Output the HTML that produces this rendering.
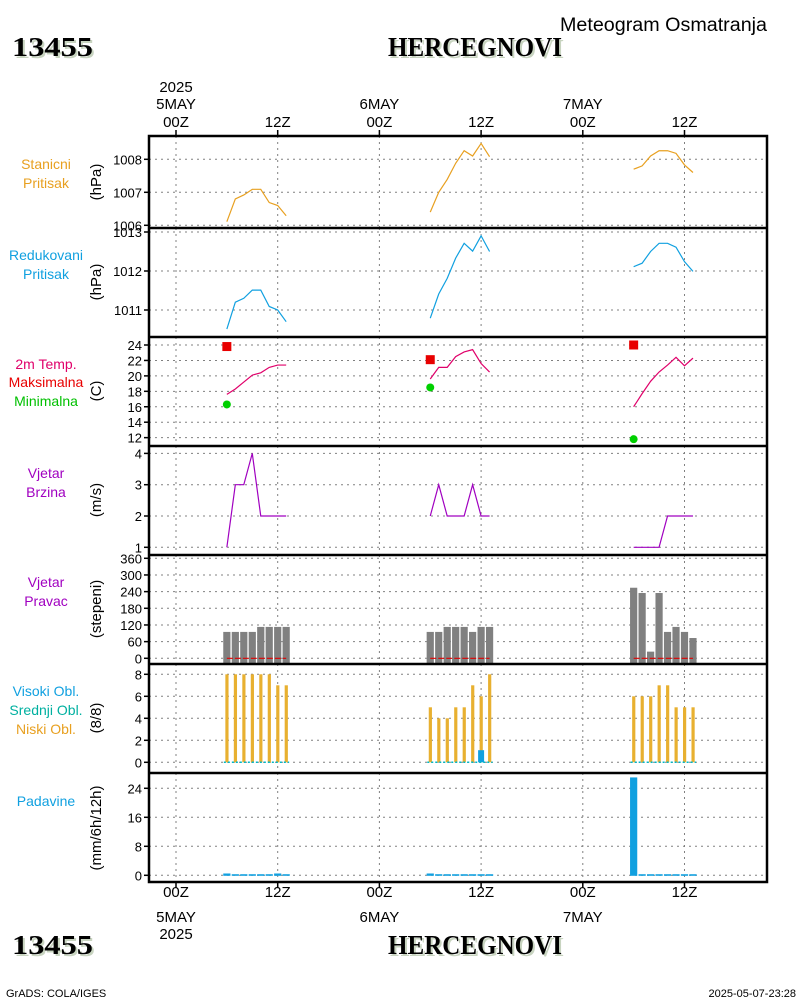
<!DOCTYPE html>
<html><head><meta charset="utf-8"><style>
html,body{margin:0;padding:0;background:#fff;}
svg{display:block;font-family:"Liberation Sans",sans-serif;}
</style></head><body>
<svg id="chart" width="800" height="1000" viewBox="0 0 800 1000" xmlns="http://www.w3.org/2000/svg">
<rect x="0" y="0" width="800" height="1000" fill="#fff"/>
<text x="560" y="31" font-size="19" textLength="207" lengthAdjust="spacingAndGlyphs">Meteogram Osmatranja</text>
<g font-family="Liberation Serif,serif" font-weight="bold" font-size="27">
<text x="14" y="58" fill="#c8d4c0" textLength="81" lengthAdjust="spacingAndGlyphs">13455</text><text x="12" y="56" fill="#000" textLength="81" lengthAdjust="spacingAndGlyphs">13455</text>
<text x="390" y="58" fill="#c8d4c0" textLength="174" lengthAdjust="spacingAndGlyphs">HERCEGNOVI</text><text x="388" y="56" fill="#000" textLength="174" lengthAdjust="spacingAndGlyphs">HERCEGNOVI</text>
</g>
<g font-family="Liberation Serif,serif" font-weight="bold" font-size="27">
<text x="14" y="956" fill="#c8d4c0" textLength="81" lengthAdjust="spacingAndGlyphs">13455</text><text x="12" y="954" fill="#000" textLength="81" lengthAdjust="spacingAndGlyphs">13455</text>
<text x="390" y="956" fill="#c8d4c0" textLength="174" lengthAdjust="spacingAndGlyphs">HERCEGNOVI</text><text x="388" y="954" fill="#000" textLength="174" lengthAdjust="spacingAndGlyphs">HERCEGNOVI</text>
</g>
<text x="6" y="997" font-size="11">GrADS: COLA/IGES</text>
<text x="796" y="997" font-size="11" text-anchor="end">2025-05-07-23:28</text>
<g id="g"></g>
</svg>
<script>
// ---- data (hours 06Z..13Z each day) ----
const dayStarts = [0, 24, 48];
const hoursOfDay = [6,7,8,9,10,11,12,13];
const stnPress = [[1006.11,1006.80,1006.92,1007.09,1007.09,1006.69,1006.60,1006.29],
                  [1006.40,1007.00,1007.39,1007.88,1008.26,1008.10,1008.48,1008.08],
                  [1007.70,1007.80,1008.10,1008.26,1008.26,1008.18,1007.83,1007.60]];
const redPress = [[1010.51,1011.20,1011.30,1011.51,1011.51,1011.09,1011.00,1010.70],
                  [1010.79,1011.41,1011.81,1012.33,1012.71,1012.51,1012.90,1012.50],
                  [1012.11,1012.20,1012.50,1012.71,1012.71,1012.61,1012.24,1011.99]];
const temp = [[17.6,18.3,19.2,20.1,20.4,21.1,21.4,21.4],
              [19.6,21.1,21.1,22.5,23.1,23.4,21.6,20.5],
              [16.0,17.7,19.3,20.5,21.4,22.4,21.3,22.3]];
const tMax = [23.8, 22.1, 24.0];
const tMin = [16.3, 18.5, 11.8];
const windSpd = [[1,3,3,4,2,2,2,2],[2,3,2,2,2,3,2,2],[1,1,1,1,2,2,2,2]];
const windDir = [[95,95,95,95,113,113,113,113],[95,95,113,113,113,95,113,113],[254,235,24,235,95,113,95,73]];
const lowCloud = [[8,8,8,8,8,8,7,7],[5,4,4,5,5,7,6,8],[6,6,6,7,7,5,5,5]];
const midCloud = [[0,0,0,0,0,0,0,0],[0,0,0,0,0,0,1.1,0],[0,0,0,0,0,0,0,0]];
const precip = [[0.5,0.3,0.3,0.3,0.3,0.3,0.5,0.3],[0.5,0.3,0.3,0.3,0.3,0.3,0.3,0.3],[27,0.3,0.3,0.3,0.3,0.3,0.3,0.3]];
const ticksP1 = [1006,1007,1008];
const ticksP2 = [1011,1012,1013];
const ticksP3 = [12,14,16,18,20,22,24];
const ticksP4 = [1,2,3,4];
const ticksP5 = [0,60,120,180,240,300,360];
const ticksP6 = [0,2,4,6,8];
const ticksP7 = [0,8,16,24];
const timeTicks = [0,12,24,36,48,60];
const timeLabels = ["00Z","12Z","00Z","12Z","00Z","12Z"];
const dateLabels = ["5MAY","","6MAY","","7MAY",""];

// ---- layout ----
const L=149,R=767,T=136,B=882;
const X = h => 176 + h*101.7/12;
const Y1 = v => 225.3-(v-1006)*33;
const Y2 = v => 310-(v-1011)*39;
const Y3 = v => 345+(24-v)*7.72;
const Y4 = v => 547.3-(v-1)*31.3;
const Y5 = v => 658.3-v*0.2778;
const Y6 = v => 762.3-v*11;
const Y7 = v => 875.3-v*3.625;
const NS="http://www.w3.org/2000/svg";
const G=document.getElementById('g');
function el(tag,attrs,parent,txt){const e=document.createElementNS(NS,tag);for(const k in attrs)e.setAttribute(k,attrs[k]);if(txt!==undefined)e.textContent=txt;(parent||G).appendChild(e);return e;}
function grp(name){const g=el('g',{});return g;}

const panels=[[T,228,Y1,ticksP1,"station-pressure"],[228,337,Y2,ticksP2,"reduced-pressure"],[337,446,Y3,ticksP3,"temperature"],
[446,555,Y4,ticksP4,"wind-speed"],[555,664,Y5,ticksP5,"wind-direction"],[664,773,Y6,ticksP6,"cloud-cover"],[773,B,Y7,ticksP7,"precipitation"]];
const gg=grp('grid');
panels.forEach(p=>{
  timeTicks.forEach(h=>el('line',{x1:X(h),x2:X(h),y1:p[0],y2:p[1],stroke:'#808080','stroke-width':1,'stroke-dasharray':'2,4'},gg));
  const ga=grp(p[4]+'-y-axis');
  p[3].forEach(v=>{const y=p[2](v);
    el('line',{x1:L,x2:R,y1:y,y2:y,stroke:'#808080','stroke-width':1,'stroke-dasharray':'2,4'},gg);
    el('line',{x1:L-5,x2:L,y1:y,y2:y,stroke:'#000','stroke-width':1.5},ga);
    el('text',{x:L-7,y:y+5,'text-anchor':'end','font-size':13},ga,String(v));});
});
const ta=grp('time-axis');
timeTicks.forEach((h,i)=>{const x=X(h);
  el('line',{x1:x,x2:x,y1:T-6,y2:T,stroke:'#000','stroke-width':1.5},ta);
  el('line',{x1:x,x2:x,y1:B,y2:B+6,stroke:'#000','stroke-width':1.5},ta);
  el('text',{x:x,y:127,'text-anchor':'middle','font-size':15},ta,timeLabels[i]);
  el('text',{x:x,y:897,'text-anchor':'middle','font-size':15},ta,timeLabels[i]);
  if(dateLabels[i]){el('text',{x:x,y:109,'text-anchor':'middle','font-size':15},ta,dateLabels[i]);
    el('text',{x:x,y:922,'text-anchor':'middle','font-size':15},ta,dateLabels[i]);}
});
el('text',{x:X(0),y:92,'text-anchor':'middle','font-size':15},ta,'2025');
el('text',{x:X(0),y:939,'text-anchor':'middle','font-size':15},ta,'2025');

function line(data,Yf,color,name){
  data.forEach((d,di)=>{const pts=d.map((v,i)=>X(dayStarts[di]+hoursOfDay[i])+','+Yf(v)).join(' ');
    const e=el('polyline',{points:pts,fill:'none',stroke:color,'stroke-width':1.2});
    
    });
}
line(stnPress,Y1,'#e8a020','station-pressure-line');
line(redPress,Y2,'#10a0e0','reduced-pressure-line');
line(temp,Y3,'#e0006a','temperature-line');
line(windSpd,Y4,'#a000c0','wind-speed-line');
tMax.forEach((v,di)=>{const r=el('rect',{x:X(dayStarts[di]+6)-4.5,y:Y3(v)-4.5,width:9,height:9,fill:'#e80000'});
  
  });
tMin.forEach((v,di)=>{const c=el('circle',{cx:X(dayStarts[di]+6),cy:Y3(v),r:4,fill:'#00d000'});
  
  });
windDir.forEach((d,di)=>{d.forEach((v,i)=>{const x=X(dayStarts[di]+hoursOfDay[i]);
  const r=el('rect',{x:x-3.6,y:Y5(v),width:7.2,height:Y5(0)-Y5(v)+5,fill:'#808080'});
  
  });
  el('line',{x1:X(dayStarts[di]+6),x2:X(dayStarts[di]+13),y1:Y5(0),y2:Y5(0),stroke:'#e00000','stroke-width':1.2,'stroke-dasharray':'6,2'});
});
lowCloud.forEach((d,di)=>{d.forEach((v,i)=>{const x=X(dayStarts[di]+hoursOfDay[i]);
  const r=el('rect',{x:x-1.5,y:Y6(v),width:3.2,height:Y6(0)-Y6(v),fill:'#e8b030'});
  
  
  const m=midCloud[di][i]; if(m>0){const b=el('rect',{x:x-3,y:Y6(m),width:6,height:Y6(0)-Y6(m),fill:'#10a0e0'});
    
    }
  });
  el('line',{x1:X(dayStarts[di]+6)-3,x2:X(dayStarts[di]+13)+3,y1:Y6(0),y2:Y6(0),stroke:'#00b8c8','stroke-width':1.5,'stroke-dasharray':'2,2'});
});
precip.forEach((d,di)=>d.forEach((v,i)=>{const x=X(dayStarts[di]+hoursOfDay[i]);
  const r=el('rect',{x:x-3.6,y:Y7(v),width:7.2,height:Y7(0)-Y7(v)+0.5,fill:'#10a0e0'});
  
  }));
const fr=grp('panel-frames');
el('rect',{x:L,y:T,width:R-L,height:B-T,fill:'none',stroke:'#000','stroke-width':2.5},fr);
[228,337,446,555,664,773].forEach(y=>el('line',{x1:L,x2:R,y1:y,y2:y,stroke:'#000','stroke-width':2.5},fr));
const labels=[[["Stanicni","#e8a020",169],["Pritisak","#e8a020",188]],[["Redukovani","#10a0e0",260],["Pritisak","#10a0e0",279]],
[["2m Temp.","#e0006a",369],["Maksimalna","#e80000",387],["Minimalna","#00c000",406]],[["Vjetar","#a000c0",478],["Brzina","#a000c0",497]],
[["Vjetar","#a000c0",587],["Pravac","#a000c0",606]],[["Visoki Obl.","#10a0e0",696],["Srednji Obl.","#00b0a0",715],["Niski Obl.","#e8a020",734]],[["Padavine","#10a0e0",806]]];
const ll=grp('panel-labels');
labels.forEach(ls=>ls.forEach(l=>el('text',{x:46,y:l[2],'text-anchor':'middle','font-size':14,fill:l[1]},ll,l[0])));
const units=[["(hPa)",182],["(hPa)",282],["(C)",391],["(m/s)",500],["(stepeni)",609],["(8/8)",718],["(mm/6h/12h)",828]];
const ul=grp('axis-units');
units.forEach(u=>el('text',{x:0,y:0,'text-anchor':'middle','font-size':15,transform:`translate(101 ${u[1]}) rotate(-90)`},ul,u[0]));
</script>
</body></html>
